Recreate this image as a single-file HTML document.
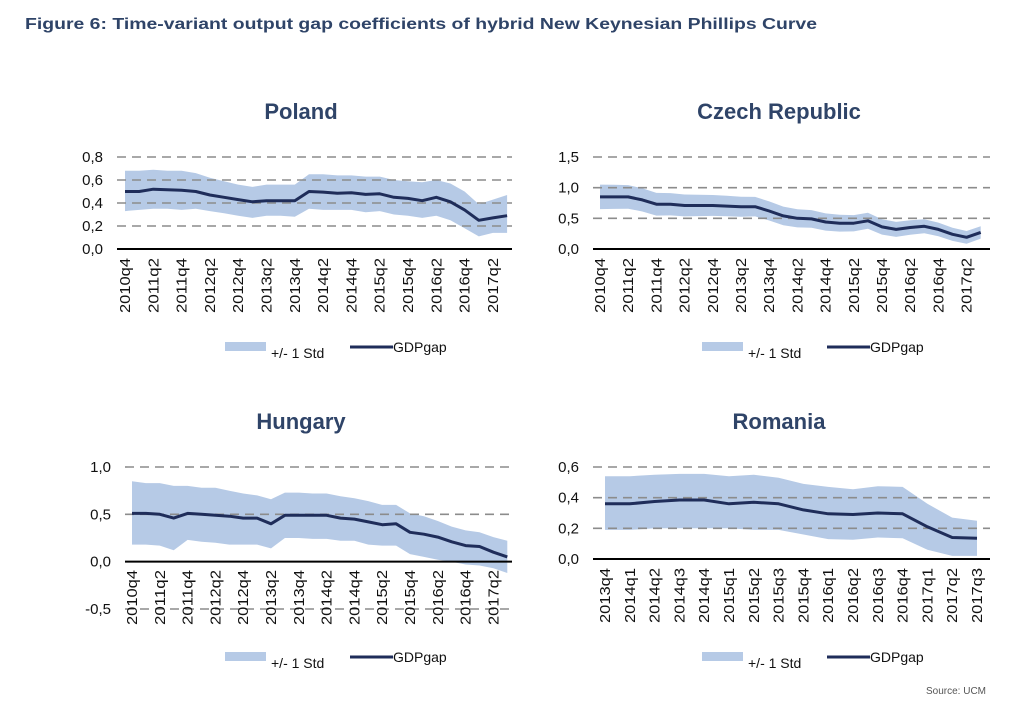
<!DOCTYPE html>
<html><head><meta charset="utf-8"><style>
html,body{margin:0;padding:0;background:#fff;}
svg{display:block;font-family:"Liberation Sans",sans-serif;}
</style></head><body>
<svg id="s" width="1024" height="722" xmlns="http://www.w3.org/2000/svg">
<text x="25" y="29" font-size="16" font-weight="bold" fill="#2f4468" textLength="792" lengthAdjust="spacingAndGlyphs">Figure 6: Time-variant output gap coefficients of hybrid New Keynesian Phillips Curve</text>
<text x="956" y="694" font-size="10" fill="#555" text-anchor="middle">Source: UCM</text>
</svg>
<script>
var s=document.getElementById('s');var NS='http://www.w3.org/2000/svg';
function el(t,a,txt){var e=document.createElementNS(NS,t);for(var k in a)e.setAttribute(k,a[k]);if(txt!=null)e.textContent=txt;s.appendChild(e);return e;}
function chart(c){
 var Y=function(v){return c.y0+(v-c.vmin)/(c.vmax-c.vmin)*(c.y1-c.y0);};
 var X=function(i){return c.xf+i*c.step;};
 var p='';for(var i=0;i<c.up.length;i++)p+=(i?'L':'M')+X(i).toFixed(1)+','+Y(c.up[i]).toFixed(1);
 for(var i=c.lo.length-1;i>=0;i--)p+='L'+X(i).toFixed(1)+','+Y(c.lo[i]).toFixed(1);
 el('path',{d:p+'Z',fill:'#b6cae6'});
 c.ticks.forEach(function(t){
  if(t[0]!==c.zero) el('line',{x1:c.ax,x2:c.xr,y1:Y(t[0]),y2:Y(t[0]),stroke:'#8c8c8c','stroke-width':1.6,'stroke-dasharray':'9,6'});
  el('text',{x:c.ax-14,y:Y(t[0])+5,'font-size':15,'text-anchor':'end',fill:'#111'},t[1]);
 });
 var q='';for(var i=0;i<c.v.length;i++)q+=(i?'L':'M')+X(i).toFixed(1)+','+Y(c.v[i]).toFixed(1);
 el('path',{d:q,fill:'none',stroke:'#1f2d5a','stroke-width':3,'stroke-linejoin':'round'});
 el('line',{x1:c.ax,x2:c.ax,y1:Y(c.vmax),y2:c.ybot,stroke:'#000','stroke-width':2});
 el('line',{x1:c.ax,x2:c.xr,y1:Y(c.zero),y2:Y(c.zero),stroke:'#000','stroke-width':2});
 c.labels.forEach(function(l,k){
  var x=X(l[0])+5,y=c.ly;
  el('text',{x:x,y:y,'font-size':14.5,'text-anchor':'end',fill:'#111',transform:'rotate(-90 '+x+' '+y+')',textLength:55,lengthAdjust:'spacingAndGlyphs'},l[1]);
 });
 el('text',{x:c.tx,y:c.ty,'font-size':22,'font-weight':'bold','text-anchor':'middle',fill:'#2f4468'},c.title);
 var lx=c.lx,ly=c.lgy;
 el('rect',{x:lx,y:ly,width:41,height:9,fill:'#b6cae6'});
 el('text',{x:lx+46,y:ly+16,'font-size':14,fill:'#111'},'+/- 1 Std');
 el('line',{x1:lx+125,x2:lx+168,y1:ly+5,y2:ly+5,stroke:'#1f2d5a','stroke-width':3});
 el('text',{x:lx+168,y:ly+10,'font-size':14,fill:'#111'},'GDPgap');
}
function qlabels(y,q,n,every){var r=[];for(var i=0;i<n;i++){if(i%every==0)r.push([i,y+'q'+q]);q++;if(q>4){q=1;y++;}}return r;}
chart({title:'Poland',tx:301,ty:119,ax:117,xr:512,xf:125,step:14.15,vmin:0.8,vmax:0,y0:157,y1:249,zero:0,ybot:249,
 ticks:[[0,'0,0'],[0.2,'0,2'],[0.4,'0,4'],[0.6,'0,6'],[0.8,'0,8']],ly:258,labels:qlabels(2010,4,27,2),lx:225,lgy:342,
 v:[.50,.50,.52,.515,.51,.50,.47,.45,.43,.41,.42,.42,.42,.50,.495,.485,.49,.475,.48,.45,.44,.42,.45,.41,.34,.25,.27,.29],
 up:[.68,.68,.69,.68,.68,.66,.62,.59,.56,.54,.56,.56,.56,.65,.65,.64,.64,.63,.63,.60,.59,.58,.60,.57,.50,.39,.43,.47],
 lo:[.33,.34,.35,.35,.34,.35,.33,.31,.29,.27,.29,.29,.28,.35,.34,.34,.34,.32,.33,.30,.29,.27,.29,.25,.18,.11,.14,.14]});
var cz=[.85,.85,.85,.80,.73,.73,.71,.71,.71,.70,.69,.69,.62,.54,.50,.49,.44,.42,.42,.46,.36,.32,.35,.37,.32,.24,.19,.27];
var cu=[],cl=[];cz.forEach(function(v,i){var w=0.2-0.1*i/27;cu.push(v+w);cl.push(v-w);});
chart({title:'Czech Republic',tx:779,ty:119,ax:593,xr:990,xf:600,step:14.1,vmin:1.5,vmax:0,y0:157,y1:249,zero:0,ybot:249,
 ticks:[[0,'0,0'],[0.5,'0,5'],[1,'1,0'],[1.5,'1,5']],ly:258,labels:qlabels(2010,4,27,2),lx:702,lgy:342,v:cz,up:cu,lo:cl});
chart({title:'Hungary',tx:301,ty:429,ax:125,xr:512,xf:132,step:13.9,vmin:1,vmax:-0.5,y0:467,y1:609,zero:0,ybot:609,
 ticks:[[-0.5,'-0,5'],[0,'0,0'],[0.5,'0,5'],[1,'1,0']],ly:570,labels:qlabels(2010,4,27,2),lx:225,lgy:652,
 v:[.51,.51,.50,.46,.51,.50,.49,.48,.46,.46,.40,.49,.49,.49,.49,.46,.45,.42,.39,.40,.31,.29,.26,.21,.17,.16,.10,.05],
 up:[.85,.83,.83,.80,.80,.78,.78,.75,.72,.70,.66,.73,.73,.72,.72,.69,.67,.64,.60,.60,.51,.48,.43,.37,.33,.31,.26,.22],
 lo:[.18,.18,.17,.12,.23,.21,.20,.18,.18,.18,.14,.25,.25,.24,.24,.22,.22,.18,.17,.17,.08,.05,.02,.00,-.03,-.04,-.07,-.12]});
chart({title:'Romania',tx:779,ty:429,ax:593,xr:990,xf:605,step:24.8,vmin:0.6,vmax:0,y0:467,y1:559,zero:0,ybot:559,
 ticks:[[0,'0,0'],[0.2,'0,2'],[0.4,'0,4'],[0.6,'0,6']],ly:568,labels:qlabels(2013,4,16,1),lx:702,lgy:652,
 v:[.36,.36,.375,.385,.385,.36,.37,.36,.32,.295,.29,.30,.295,.21,.14,.135],
 up:[.54,.54,.55,.555,.555,.54,.55,.53,.49,.47,.455,.475,.47,.36,.27,.25],
 lo:[.19,.19,.20,.20,.20,.20,.19,.19,.16,.13,.125,.14,.135,.06,.02,.02]});
</script>
</body></html>
